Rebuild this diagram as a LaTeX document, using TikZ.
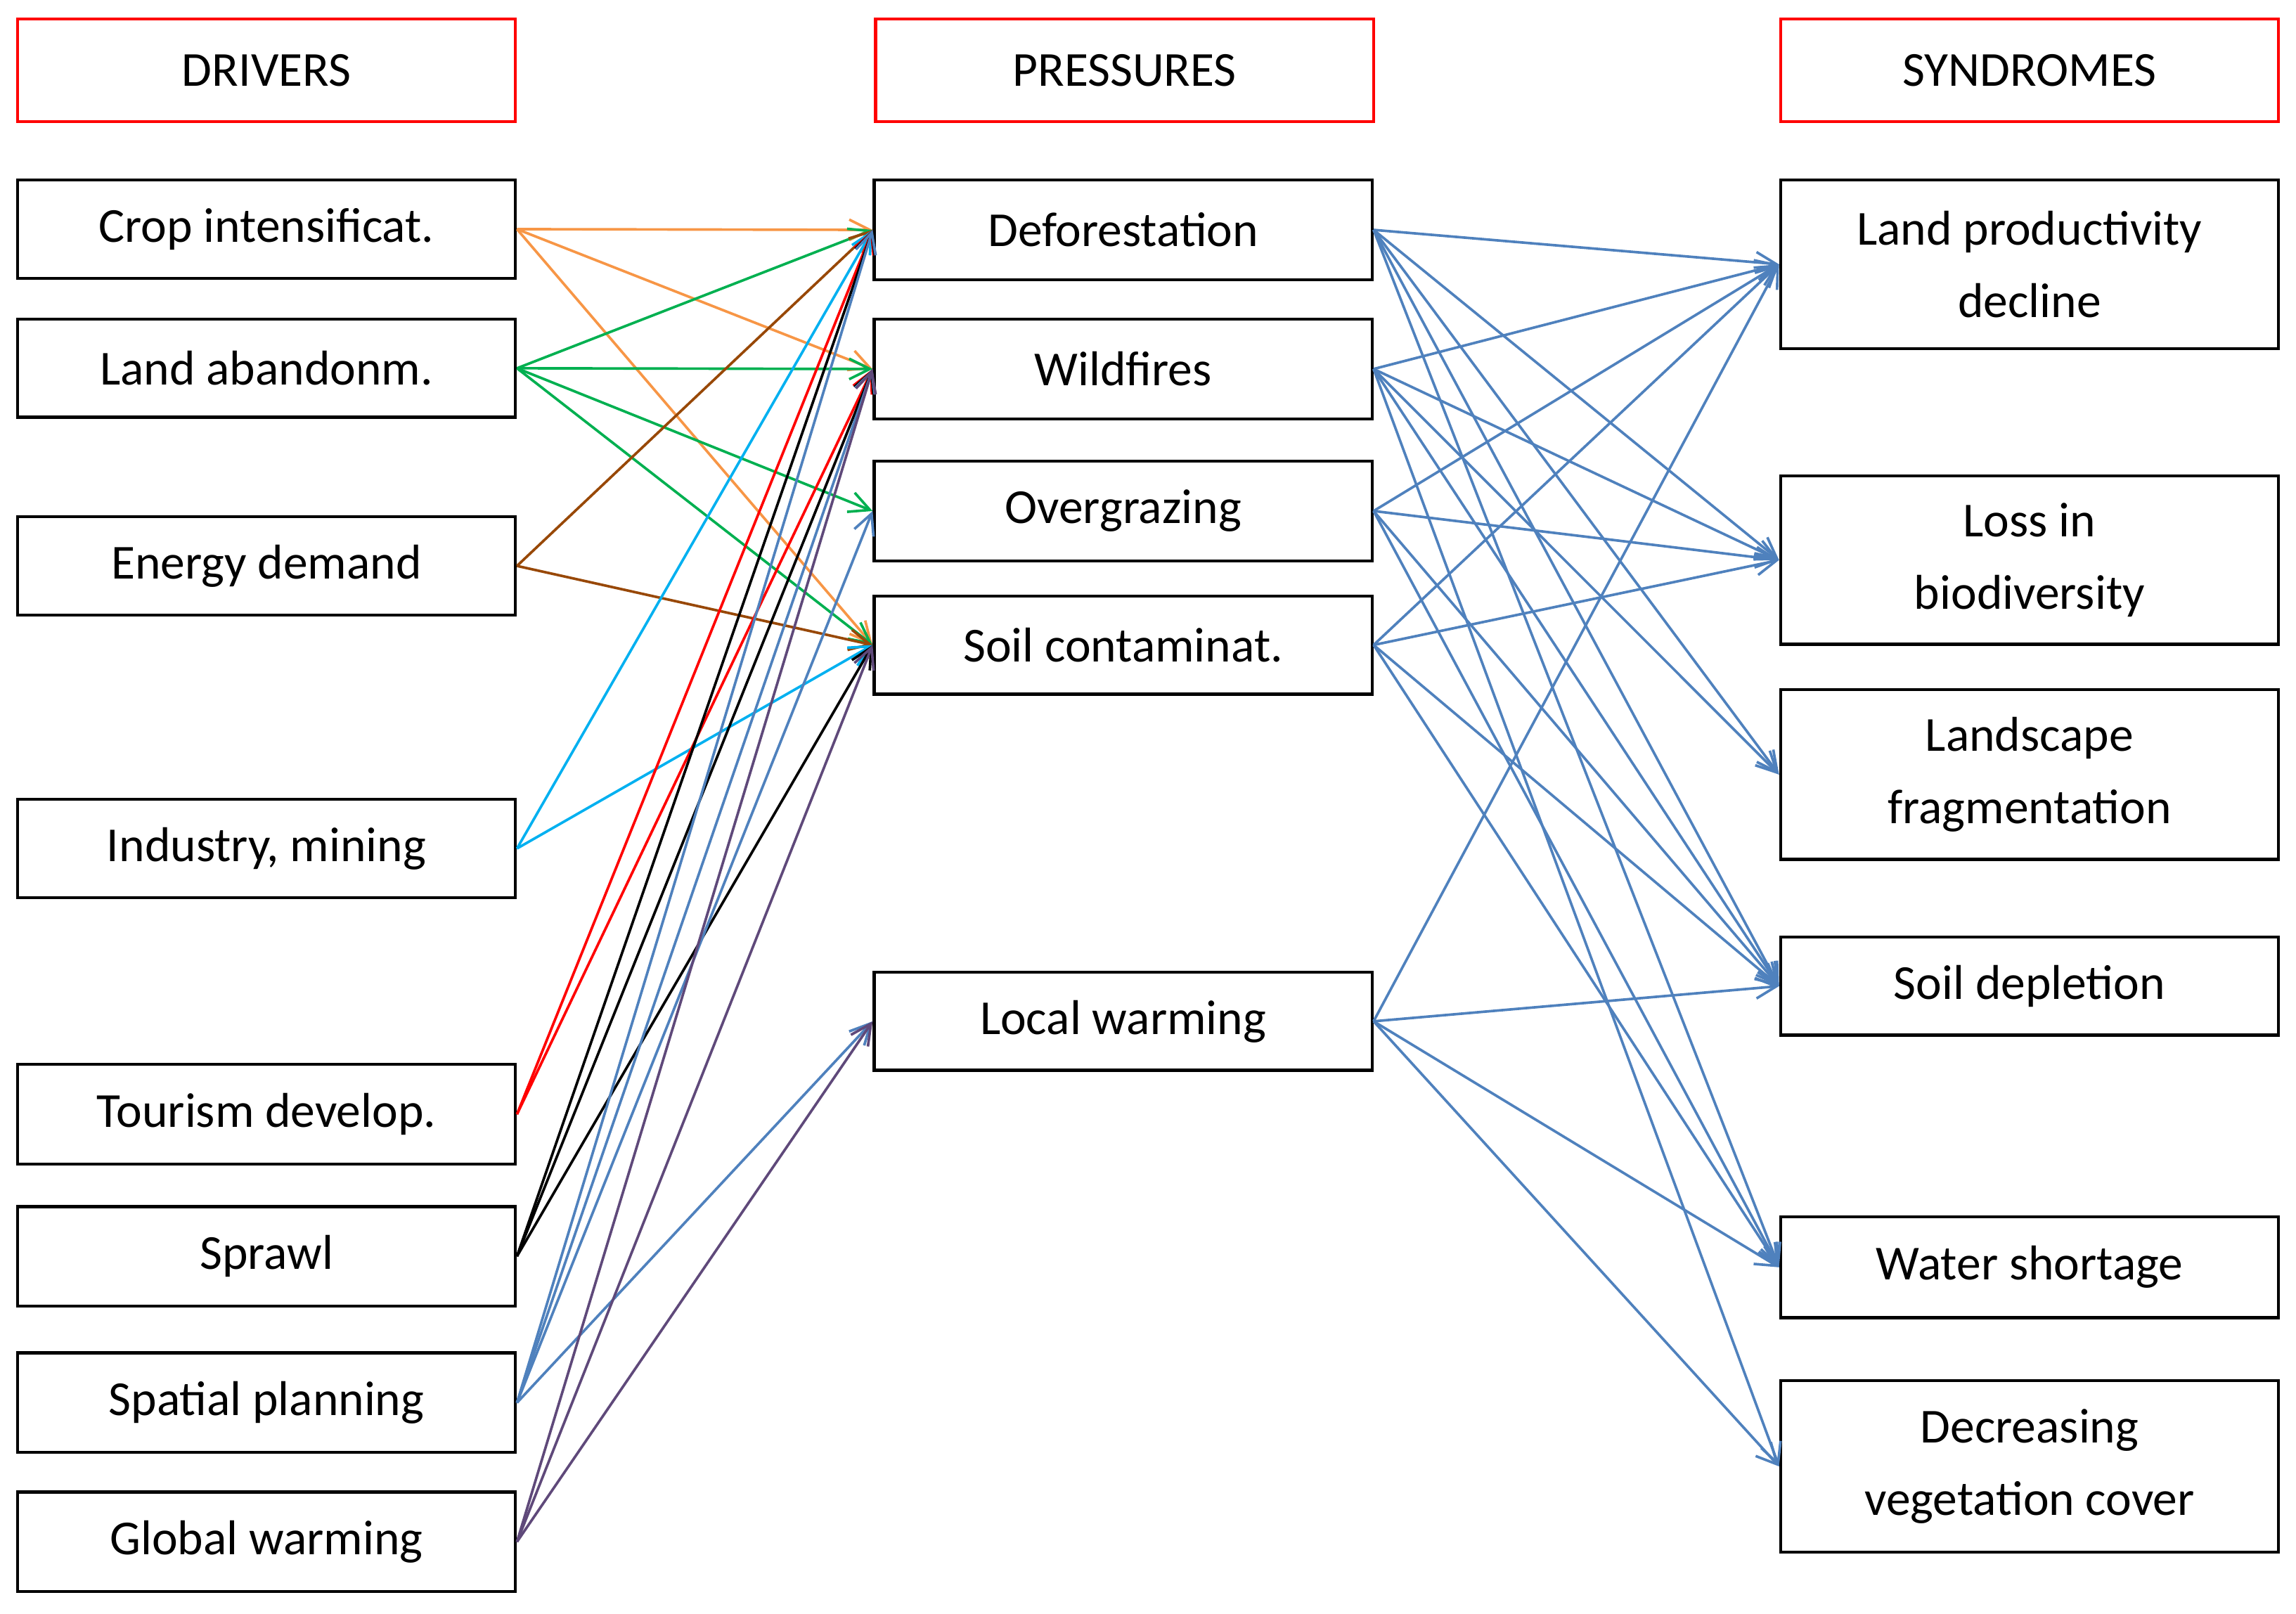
\documentclass[tikz,border=0pt]{standalone}
\usepackage{fontspec}
\setmainfont{Carlito}
\usetikzlibrary{arrows.meta}
\definecolor{eb}{HTML}{4F81BD}
\definecolor{eor}{HTML}{F79646}
\definecolor{egr}{HTML}{00B050}
\definecolor{ebr}{HTML}{984807}
\definecolor{ecy}{HTML}{00B0F0}
\definecolor{epu}{HTML}{5F497A}
\begin{document}
\begin{tikzpicture}[x=0.02cm,y=-0.02cm,
 box/.style={draw=black,line width=1.2pt,minimum width=340*0.02cm,align=center,font=\fontsize{19}{28}\selectfont,inner sep=0pt},
 hd/.style={box,draw=red},
 ar/.style={line width=1pt,-{Straight Barb[length=8pt,width=8pt]}}]
\useasboundingbox (0,0) rectangle (1568,1102);
\def\bx(#1,#2,#3,#4,#5){\node[box,minimum height=(#3-#2)*0.02cm] (#1) at (#4,{(#2+#3)/2}) {#5};}
\node[hd,minimum height=70*0.02cm] (hD) at (182,48) {DRIVERS};
\node[hd,minimum height=70*0.02cm] (hP) at (768,48) {PRESSURES};
\node[hd,minimum height=70*0.02cm] (hS) at (1386,48) {SYNDROMES};
\bx(d1,123,190,182,Crop intensificat.)
\bx(d2,218,285,182,Land abandonm.)
\bx(d3,353,420,182,Energy demand)
\bx(d4,546,613,182,{Industry, mining})
\bx(d5,727,795,182,Tourism develop.)
\bx(d6,824,892,182,Sprawl)
\bx(d7,924,992,182,Spatial planning)
\bx(d8,1019,1087,182,Global warming)
\bx(p1,123,191,767,Deforestation)
\bx(p2,218,286,767,Wildfires)
\bx(p3,315,383,767,Overgrazing)
\bx(p4,407,474,767,Soil contaminat.)
\bx(p5,664,731,767,Local warming)
\bx(s1,123,238,1386,Land productivity\\decline)
\bx(s2,325,440,1386,Loss in\\biodiversity)
\bx(s3,471,587,1386,Landscape\\fragmentation)
\bx(s4,640,707,1386,Soil depletion)
\bx(s5,831,900,1386,Water shortage)
\bx(s6,943,1060,1386,Decreasing\\vegetation cover)
% drivers -> pressures
\foreach \p in {p1,p2,p4} \draw[ar,eor] (d1.east) -- (\p.west);
\foreach \p in {p1,p2,p3,p4} \draw[ar,egr] (d2.east) -- (\p.west);
\foreach \p in {p1,p4} \draw[ar,ebr] (d3.east) -- (\p.west);
\foreach \p in {p1,p4} \draw[ar,ecy] (d4.east) -- (\p.west);
\foreach \p in {p1,p2} \draw[ar,red] (d5.east) -- (\p.west);
\foreach \p in {p1,p2,p4} \draw[ar,black] (d6.east) -- (\p.west);
\foreach \p in {p1,p2,p3,p5} \draw[ar,eb] (d7.east) -- (\p.west);
\foreach \p in {p2,p4,p5} \draw[ar,epu] (d8.east) -- (\p.west);
% pressures -> syndromes
\foreach \s in {s1,s2,s3,s4,s5} \draw[ar,eb] (p1.east) -- (\s.west);
\foreach \s in {s1,s2,s3,s4,s6} \draw[ar,eb] (p2.east) -- (\s.west);
\foreach \s in {s1,s2,s4,s5} \draw[ar,eb] (p3.east) -- (\s.west);
\foreach \s in {s1,s2,s4,s5} \draw[ar,eb] (p4.east) -- (\s.west);
\foreach \s in {s1,s4,s5,s6} \draw[ar,eb] (p5.east) -- (\s.west);
\end{tikzpicture}
\end{document}
